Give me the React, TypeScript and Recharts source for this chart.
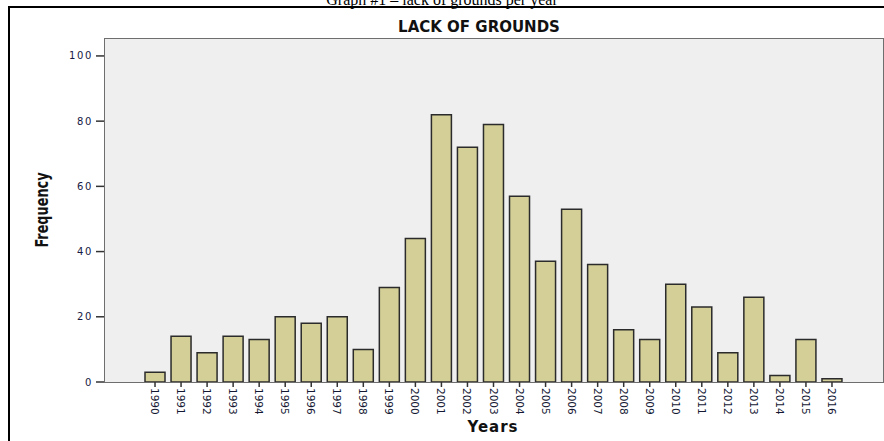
import { BarChart, Bar, XAxis, YAxis } from "recharts"

const years = [
  "1990", "1991", "1992", "1993", "1994", "1995", "1996", "1997", "1998",
  "1999", "2000", "2001", "2002", "2003", "2004", "2005", "2006", "2007",
  "2008", "2009", "2010", "2011", "2012", "2013", "2014", "2015", "2016",
]
const frequency = [
  3, 14, 9, 14, 13, 20, 18, 20, 10,
  29, 44, 82, 72, 79, 57, 37, 53, 36,
  16, 13, 30, 23, 9, 26, 2, 13, 1,
]
const yTicks = [0, 20, 40, 60, 80, 100]

const data = years.map((year, i) => ({ year, value: frequency[i] }))

const labelFont = "'DejaVu Sans', Verdana, sans-serif"

function YTick(props: any) {
  const { x, y, payload } = props
  return (
    <text x={x} y={y} textAnchor="end" dominantBaseline="central"
      fontFamily={labelFont} fontSize={10} letterSpacing={1.6} fill="#161a44">
      {payload.value}
    </text>
  )
}

function XTick(props: any) {
  const { x, y, payload } = props
  return (
    <text x={x} y={y} transform={`rotate(90 ${x} ${y})`} textAnchor="start"
      dominantBaseline="central" fontFamily={labelFont} fontSize={10.5} fill="#141833">
      {payload.value}
    </text>
  )
}

export default function App() {
  return (
    <div style={{ position: "absolute", left: 0, top: 0, width: 884, height: 441, overflow: "hidden", background: "#fff" }}>
      <div style={{ position: "absolute", left: 0, top: -9, width: 884, textAlign: "center",
        fontFamily: "'Liberation Serif', 'Times New Roman', serif", fontSize: 16 }}>
        Graph #1 – lack of grounds per year
      </div>
      <div style={{ position: "absolute", left: 8, top: 6, width: 880, height: 440,
        borderLeft: "2px solid #000", borderTop: "2px solid #000" }} />
      <div style={{ position: "absolute", left: 104, top: 38, width: 780, height: 345,
        boxSizing: "border-box", background: "#efefef", border: "1px solid #6e6e6e" }} />
      <div style={{ position: "absolute", left: 0, top: 18, width: 958, textAlign: "center",
        fontFamily: labelFont, fontWeight: "bold", fontSize: 15, color: "#111" }}>
        LACK OF GROUNDS
      </div>
      <div style={{ position: "absolute", left: 42, top: 210, transform: "translate(-50%, -50%) rotate(-90deg) scaleX(0.84)",
        fontFamily: "'Liberation Sans Narrow', 'DejaVu Sans Condensed', 'Liberation Sans', sans-serif",
        fontStretch: "condensed", fontWeight: "bold", fontSize: 17, color: "#111", whiteSpace: "nowrap" }}>
        Frequency
      </div>
      <div style={{ position: "absolute", left: 493, top: 427, transform: "translate(-50%, -50%)",
        fontFamily: labelFont, fontWeight: "bold", fontSize: 15, letterSpacing: 1, color: "#111" }}>
        Years
      </div>
      <div style={{ position: "absolute", left: 0, top: 0 }}>
        <BarChart width={884} height={441} data={data}
          margin={{ top: 38, right: 1, bottom: 29, left: 0 }} barCategoryGap={6}>
          <XAxis dataKey="year" interval={0} height={30} padding={{ left: 38, right: 38 }}
            axisLine={false} tickLine={{ stroke: "#333", strokeWidth: 1.5 }} tickSize={5}
            tickMargin={1} tick={<XTick />} />
          <YAxis width={104} domain={[0, 105.5]} ticks={yTicks} allowDataOverflow
            axisLine={false} tickLine={{ stroke: "#333", strokeWidth: 1.5 }} tickSize={8}
            tickMargin={3} tick={<YTick />} />
          <Bar dataKey="value" fill="#d3cf97" stroke="#2b2b2b" strokeWidth={1.5}
            barSize={20} isAnimationActive={false} />
        </BarChart>
      </div>
    </div>
  )
}
